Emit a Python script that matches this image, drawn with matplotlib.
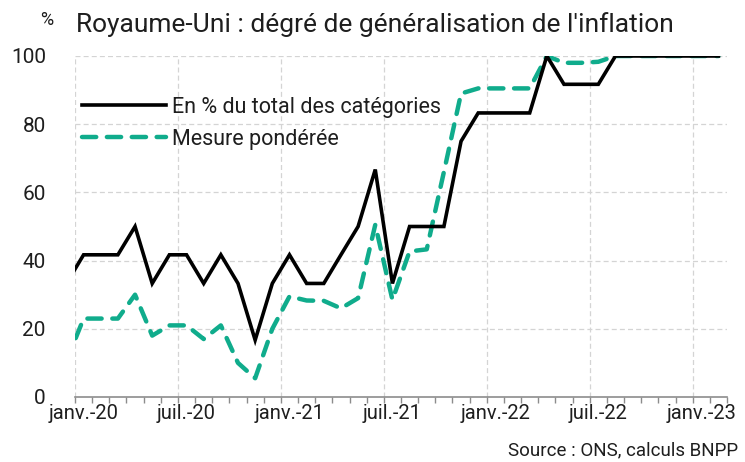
import matplotlib
matplotlib.use("Agg")
import matplotlib.pyplot as plt
from matplotlib.lines import Line2D
import numpy as np

# ---- data (monthly, Dec-19 .. Feb-23; Dec-19 is clipped by the axis) ----
months = ["déc.-19",
          "janv.-20", "févr.-20", "mars-20", "avr.-20", "mai-20", "juin-20",
          "juil.-20", "août-20", "sept.-20", "oct.-20", "nov.-20", "déc.-20",
          "janv.-21", "févr.-21", "mars-21", "avr.-21", "mai-21", "juin-21",
          "juil.-21", "août-21", "sept.-21", "oct.-21", "nov.-21", "déc.-21",
          "janv.-22", "févr.-22", "mars-22", "avr.-22", "mai-22", "juin-22",
          "juil.-22", "août-22", "sept.-22", "oct.-22", "nov.-22", "déc.-22",
          "janv.-23", "févr.-23"]
total_share = [33.3,
               41.7, 41.7, 41.7, 50.0, 33.3, 41.7,
               41.7, 33.3, 41.7, 33.3, 16.7, 33.3,
               41.7, 33.3, 33.3, 41.7, 50.0, 66.7,
               33.3, 50.0, 50.0, 50.0, 75.0, 83.3,
               83.3, 83.3, 83.3, 100.0, 91.7, 91.7,
               91.7, 100.0, 100.0, 100.0, 100.0, 100.0,
               100.0, 100.0]
weighted = [10.5,
            23.0, 23.0, 23.0, 30.0, 18.0, 21.0,
            21.0, 17.0, 21.0, 10.0, 5.5, 20.0,
            29.5, 28.3, 28.2, 26.0, 29.0, 50.5,
            28.5, 42.7, 43.3, 66.0, 89.0, 90.5,
            90.5, 90.5, 90.5, 100.0, 98.0, 98.0,
            98.3, 100.0, 100.0, 100.0, 100.0, 100.0,
            100.0, 100.0]
tick_labels = ["janv.-20", "juil.-20", "janv.-21", "juil.-21",
               "janv.-22", "juil.-22", "janv.-23"]
series_names = ["En % du total des catégories", "Mesure pondérée"]
title = "Royaume-Uni : dégré de généralisation de l'inflation"
source = "Source : ONS, calculs BNPP"

plt.rcParams["font.family"] = ["Roboto", "DejaVu Sans"]

GREEN = "#10ac8c"
TXT = "#1e1e1e"

fig = plt.figure(figsize=(7.45, 4.62), dpi=100)
ax = fig.add_axes([75/745, 65/462, (727-75)/745, (397-56)/462])

n = len(months) - 1  # visible categories (Jan-20 .. Feb-23)
x = np.arange(len(months)) - 0.5  # category centres; Dec-19 at -0.5

ax.plot(x, total_share, color="black", lw=2.6, solid_joinstyle="miter",
        zorder=3)
ax.plot(x, weighted, color=GREEN, lw=3.2, dashes=(3.2, 2.4),
        dash_capstyle="round", zorder=2)

ax.set_xlim(0, n)
ax.set_ylim(0, 100)

for yv in range(20, 101, 20):
    ax.axhline(yv, color="#d4d4d4", lw=0.9, ls=(0, (4, 2.5)), zorder=1)
for xv in range(0, n, 6):
    ax.axvline(xv, color="#d4d4d4", lw=0.9, ls=(0, (4, 2.5)), zorder=1)

for s in ["left", "right", "top"]:
    ax.spines[s].set_visible(False)
ax.spines["bottom"].set_color("#8c8c8c")
ax.spines["bottom"].set_linewidth(1.2)

ax.set_yticks(range(0, 101, 20))
ax.set_yticklabels([str(v) for v in range(0, 101, 20)], fontsize=15, color=TXT)
ax.tick_params(axis="y", length=0, pad=21)

ax.set_xticks(np.arange(0, n + 1, 1))
ax.set_xticklabels([])
ax.tick_params(axis="x", length=4, width=1, color="#8c8c8c", direction="out")

tr = ax.get_xaxis_transform()
label_pos = [0.5 + 6 * i for i in range(len(tick_labels))]
for p, lab in zip(label_pos, tick_labels):
    ax.text(p, -0.02, lab, transform=tr, ha="center", va="top",
            fontsize=14.5, color=TXT)

handles = [Line2D([], [], color="black", lw=2.6),
           Line2D([], [], color=GREEN, lw=3.2, dashes=(3.2, 2.4),
                  dash_capstyle="round")]
leg = ax.legend(handles, series_names, loc="upper left",
                bbox_to_anchor=(-0.003, 0.905), frameon=False, fontsize=15.5,
                handlelength=3.9, handletextpad=0.3, labelspacing=0.5,
                borderaxespad=0, labelcolor=TXT)

fig.text(47/745, 1 - 20/462, "%", ha="center", va="center", fontsize=13, color=TXT)
fig.text(76/745, 1 - 25/462, title, ha="left", va="center", fontsize=19, color=TXT)
fig.text(738/745, 1 - 450/462, source, ha="right", va="center", fontsize=13.5, color=TXT)

fig.savefig("out.png", dpi=100)
